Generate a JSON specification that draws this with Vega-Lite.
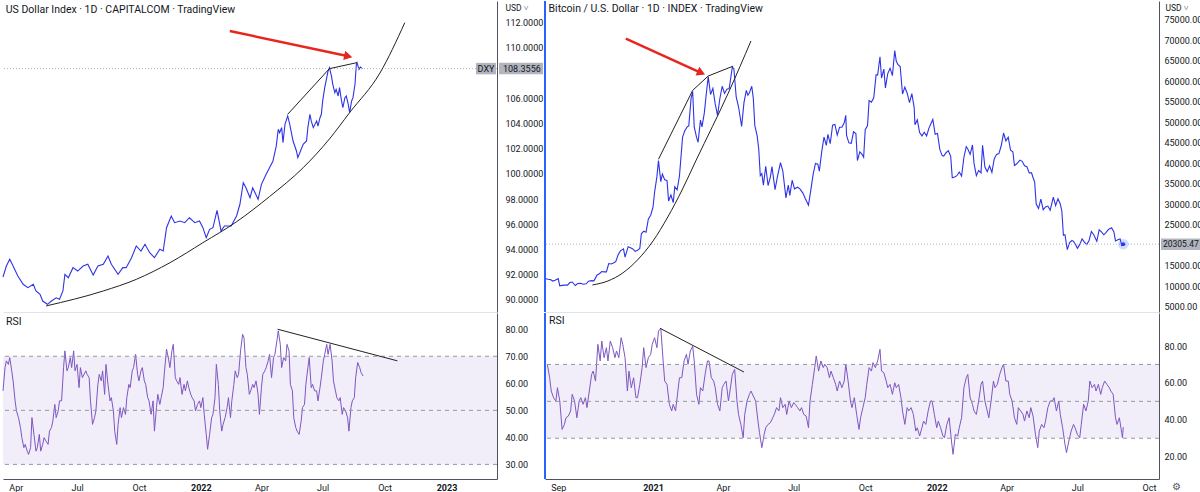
{
  "$schema": "https://vega.github.io/schema/vega-lite/v6.json",
  "padding": 0,
  "background": "#ffffff",
  "columns": 2,
  "spacing": {"row": 1, "column": 48},
  "bounds": "flush",
  "config": {
    "view": {"stroke": null},
    "font": "Roboto",
    "axis": {"grid": false, "ticks": false, "labelColor": "#131722", "labelFontSize": 9, "domainColor": "#50535e", "domainWidth": 1, "titleFontWeight": "normal", "titleColor": "#131722", "labelOverlap": false, "labelFlush": false},
    "title": {"anchor": "start", "fontWeight": "normal", "fontSize": 10.5, "color": "#131722", "font": "Roboto", "orient": "top", "offset": -14, "dx": 5}
  },
  "datasets": {
    "dxy": [
      {"t":"2021-03-13","v":91.82},{"t":"2021-03-18","v":92.69},{"t":"2021-03-23","v":93.22},{"t":"2021-03-28","v":92.69},{"t":"2021-04-04","v":91.9},{"t":"2021-04-12","v":91.24},{"t":"2021-04-19","v":90.97},{"t":"2021-04-27","v":91.24},{"t":"2021-05-01","v":90.71},{"t":"2021-05-07","v":90.44},{"t":"2021-05-11","v":89.91},{"t":"2021-05-18","v":89.65},{"t":"2021-05-24","v":89.91},{"t":"2021-05-31","v":90.17},{"t":"2021-06-05","v":90.05},{"t":"2021-06-10","v":90.71},{"t":"2021-06-13","v":92.03},{"t":"2021-06-18","v":91.76},{"t":"2021-06-25","v":92.56},{"t":"2021-07-02","v":92.29},{"t":"2021-07-10","v":92.69},{"t":"2021-07-17","v":92.83},{"t":"2021-07-25","v":91.98},{"t":"2021-08-01","v":92.69},{"t":"2021-08-09","v":92.83},{"t":"2021-08-16","v":93.48},{"t":"2021-08-21","v":92.83},{"t":"2021-08-31","v":92.03},{"t":"2021-09-07","v":92.56},{"t":"2021-09-12","v":92.56},{"t":"2021-09-20","v":93.35},{"t":"2021-09-27","v":94.28},{"t":"2021-10-04","v":93.88},{"t":"2021-10-10","v":94.41},{"t":"2021-10-17","v":93.75},{"t":"2021-10-24","v":93.35},{"t":"2021-11-01","v":94.02},{"t":"2021-11-06","v":93.88},{"t":"2021-11-11","v":95.73},{"t":"2021-11-18","v":96.66},{"t":"2021-11-23","v":96.13},{"t":"2021-12-01","v":96.26},{"t":"2021-12-08","v":96.13},{"t":"2021-12-15","v":96.52},{"t":"2021-12-23","v":96.13},{"t":"2021-12-30","v":96.26},{"t":"2022-01-04","v":95.73},{"t":"2022-01-09","v":94.94},{"t":"2022-01-14","v":95.6},{"t":"2022-01-19","v":95.73},{"t":"2022-01-25","v":97.11},{"t":"2022-01-31","v":95.47},{"t":"2022-02-05","v":95.87},{"t":"2022-02-15","v":95.87},{"t":"2022-02-23","v":96.66},{"t":"2022-02-28","v":97.59},{"t":"2022-03-05","v":99.3},{"t":"2022-03-09","v":98.9},{"t":"2022-03-15","v":98.11},{"t":"2022-03-19","v":98.9},{"t":"2022-03-27","v":97.98},{"t":"2022-04-01","v":99.17},{"t":"2022-04-08","v":99.97},{"t":"2022-04-13","v":100.49},{"t":"2022-04-18","v":101.0},{"t":"2022-04-23","v":102.2},{"t":"2022-04-26","v":103.54},{"t":"2022-04-28","v":103.27},{"t":"2022-05-01","v":103.67},{"t":"2022-05-03","v":102.48},{"t":"2022-05-06","v":103.94},{"t":"2022-05-10","v":104.6},{"t":"2022-05-13","v":103.94},{"t":"2022-05-18","v":102.61},{"t":"2022-05-23","v":101.82},{"t":"2022-05-25","v":101.29},{"t":"2022-05-28","v":101.68},{"t":"2022-06-02","v":102.35},{"t":"2022-06-07","v":102.61},{"t":"2022-06-09","v":103.67},{"t":"2022-06-12","v":104.73},{"t":"2022-06-14","v":104.2},{"t":"2022-06-17","v":103.67},{"t":"2022-06-22","v":104.2},{"t":"2022-06-24","v":103.8},{"t":"2022-06-27","v":104.46},{"t":"2022-06-29","v":104.73},{"t":"2022-07-01","v":105.79},{"t":"2022-07-04","v":106.84},{"t":"2022-07-06","v":107.37},{"t":"2022-07-09","v":108.17},{"t":"2022-07-11","v":108.43},{"t":"2022-07-14","v":107.77},{"t":"2022-07-16","v":107.11},{"t":"2022-07-19","v":106.44},{"t":"2022-07-21","v":106.71},{"t":"2022-07-24","v":106.18},{"t":"2022-07-26","v":106.84},{"t":"2022-07-29","v":105.79},{"t":"2022-07-31","v":105.25},{"t":"2022-08-03","v":106.05},{"t":"2022-08-05","v":106.18},{"t":"2022-08-08","v":105.52},{"t":"2022-08-10","v":104.86},{"t":"2022-08-13","v":105.79},{"t":"2022-08-15","v":106.05},{"t":"2022-08-18","v":107.11},{"t":"2022-08-20","v":108.7},{"t":"2022-08-21","v":108.83},{"t":"2022-08-24","v":108.3},{"t":"2022-08-26","v":108.48},{"t":"2022-08-29","v":108.3556}
    ],
    "rsiL": [
      {"t":"2021-03-13","v":57.2},{"t":"2021-03-16","v":65.8},{"t":"2021-03-18","v":68.3},{"t":"2021-03-21","v":67.0},{"t":"2021-03-23","v":69.5},{"t":"2021-03-26","v":64.6},{"t":"2021-03-28","v":60.9},{"t":"2021-03-31","v":53.5},{"t":"2021-04-02","v":49.8},{"t":"2021-04-05","v":47.3},{"t":"2021-04-08","v":43.6},{"t":"2021-04-10","v":39.9},{"t":"2021-04-13","v":36.2},{"t":"2021-04-15","v":37.4},{"t":"2021-04-18","v":34.9},{"t":"2021-04-20","v":33.7},{"t":"2021-04-23","v":36.2},{"t":"2021-04-25","v":47.3},{"t":"2021-04-28","v":41.1},{"t":"2021-05-01","v":34.9},{"t":"2021-05-03","v":36.2},{"t":"2021-05-06","v":41.1},{"t":"2021-05-08","v":34.9},{"t":"2021-05-11","v":37.4},{"t":"2021-05-13","v":39.9},{"t":"2021-05-16","v":38.6},{"t":"2021-05-19","v":37.4},{"t":"2021-05-21","v":42.3},{"t":"2021-05-24","v":43.6},{"t":"2021-05-26","v":46.0},{"t":"2021-05-29","v":52.2},{"t":"2021-05-31","v":47.3},{"t":"2021-06-03","v":49.8},{"t":"2021-06-05","v":53.5},{"t":"2021-06-08","v":53.5},{"t":"2021-06-11","v":65.8},{"t":"2021-06-13","v":72.0},{"t":"2021-06-16","v":64.6},{"t":"2021-06-18","v":65.8},{"t":"2021-06-21","v":69.5},{"t":"2021-06-23","v":65.8},{"t":"2021-06-26","v":72.0},{"t":"2021-06-28","v":64.6},{"t":"2021-07-01","v":67.0},{"t":"2021-07-04","v":58.4},{"t":"2021-07-06","v":65.8},{"t":"2021-07-09","v":62.1},{"t":"2021-07-14","v":64.6},{"t":"2021-07-16","v":63.3},{"t":"2021-07-19","v":62.1},{"t":"2021-07-21","v":53.5},{"t":"2021-07-24","v":44.8},{"t":"2021-07-27","v":47.3},{"t":"2021-07-29","v":49.8},{"t":"2021-08-01","v":59.6},{"t":"2021-08-03","v":63.3},{"t":"2021-08-06","v":60.9},{"t":"2021-08-08","v":64.6},{"t":"2021-08-11","v":55.9},{"t":"2021-08-13","v":67.0},{"t":"2021-08-16","v":59.6},{"t":"2021-08-19","v":53.5},{"t":"2021-08-21","v":54.7},{"t":"2021-08-24","v":49.8},{"t":"2021-08-26","v":42.3},{"t":"2021-08-29","v":37.4},{"t":"2021-08-31","v":44.8},{"t":"2021-09-03","v":51.0},{"t":"2021-09-05","v":47.3},{"t":"2021-09-08","v":51.0},{"t":"2021-09-11","v":48.5},{"t":"2021-09-13","v":54.7},{"t":"2021-09-16","v":59.6},{"t":"2021-09-18","v":58.4},{"t":"2021-09-21","v":64.6},{"t":"2021-09-23","v":65.8},{"t":"2021-09-26","v":70.7},{"t":"2021-09-29","v":63.3},{"t":"2021-10-01","v":60.9},{"t":"2021-10-04","v":64.6},{"t":"2021-10-06","v":65.8},{"t":"2021-10-09","v":60.9},{"t":"2021-10-11","v":59.6},{"t":"2021-10-14","v":54.7},{"t":"2021-10-16","v":53.5},{"t":"2021-10-19","v":48.5},{"t":"2021-10-22","v":53.5},{"t":"2021-10-24","v":42.3},{"t":"2021-10-27","v":51.0},{"t":"2021-10-29","v":55.9},{"t":"2021-11-01","v":52.2},{"t":"2021-11-03","v":54.7},{"t":"2021-11-06","v":58.4},{"t":"2021-11-08","v":64.6},{"t":"2021-11-11","v":72.6},{"t":"2021-11-14","v":68.9},{"t":"2021-11-16","v":65.8},{"t":"2021-11-19","v":72.0},{"t":"2021-11-21","v":74.4},{"t":"2021-11-24","v":62.1},{"t":"2021-11-26","v":60.9},{"t":"2021-11-29","v":59.6},{"t":"2021-12-01","v":62.1},{"t":"2021-12-04","v":55.9},{"t":"2021-12-07","v":59.6},{"t":"2021-12-09","v":57.2},{"t":"2021-12-12","v":60.9},{"t":"2021-12-14","v":58.4},{"t":"2021-12-17","v":55.9},{"t":"2021-12-19","v":54.7},{"t":"2021-12-22","v":53.5},{"t":"2021-12-24","v":49.8},{"t":"2021-12-27","v":52.2},{"t":"2021-12-30","v":53.5},{"t":"2022-01-01","v":51.0},{"t":"2022-01-04","v":54.7},{"t":"2022-01-06","v":48.5},{"t":"2022-01-09","v":41.1},{"t":"2022-01-11","v":35.6},{"t":"2022-01-14","v":41.1},{"t":"2022-01-17","v":47.3},{"t":"2022-01-19","v":48.5},{"t":"2022-01-22","v":54.7},{"t":"2022-01-24","v":67.0},{"t":"2022-01-27","v":59.6},{"t":"2022-01-29","v":49.8},{"t":"2022-02-01","v":42.3},{"t":"2022-02-03","v":44.8},{"t":"2022-02-06","v":47.3},{"t":"2022-02-09","v":51.0},{"t":"2022-02-11","v":54.7},{"t":"2022-02-14","v":47.3},{"t":"2022-02-16","v":53.5},{"t":"2022-02-19","v":59.6},{"t":"2022-02-21","v":64.6},{"t":"2022-02-24","v":62.1},{"t":"2022-02-26","v":63.3},{"t":"2022-03-01","v":72.0},{"t":"2022-03-04","v":78.1},{"t":"2022-03-06","v":76.9},{"t":"2022-03-09","v":65.8},{"t":"2022-03-11","v":63.3},{"t":"2022-03-14","v":55.9},{"t":"2022-03-16","v":57.2},{"t":"2022-03-19","v":59.6},{"t":"2022-03-21","v":58.4},{"t":"2022-03-24","v":60.9},{"t":"2022-03-27","v":55.9},{"t":"2022-03-29","v":48.5},{"t":"2022-04-01","v":58.4},{"t":"2022-04-03","v":63.3},{"t":"2022-04-06","v":64.6},{"t":"2022-04-08","v":65.8},{"t":"2022-04-11","v":68.3},{"t":"2022-04-13","v":70.7},{"t":"2022-04-16","v":62.1},{"t":"2022-04-19","v":69.5},{"t":"2022-04-21","v":70.7},{"t":"2022-04-24","v":75.7},{"t":"2022-04-26","v":79.4},{"t":"2022-04-29","v":74.4},{"t":"2022-05-01","v":65.8},{"t":"2022-05-04","v":69.5},{"t":"2022-05-07","v":68.3},{"t":"2022-05-09","v":74.4},{"t":"2022-05-12","v":72.0},{"t":"2022-05-14","v":59.6},{"t":"2022-05-17","v":57.2},{"t":"2022-05-19","v":47.3},{"t":"2022-05-22","v":43.6},{"t":"2022-05-24","v":42.3},{"t":"2022-05-27","v":41.1},{"t":"2022-05-30","v":46.0},{"t":"2022-06-01","v":51.0},{"t":"2022-06-04","v":52.2},{"t":"2022-06-06","v":59.6},{"t":"2022-06-09","v":65.8},{"t":"2022-06-11","v":69.5},{"t":"2022-06-14","v":58.4},{"t":"2022-06-16","v":59.6},{"t":"2022-06-19","v":57.2},{"t":"2022-06-22","v":57.2},{"t":"2022-06-24","v":53.5},{"t":"2022-06-27","v":58.4},{"t":"2022-06-29","v":62.1},{"t":"2022-07-02","v":68.3},{"t":"2022-07-04","v":70.7},{"t":"2022-07-07","v":74.4},{"t":"2022-07-09","v":70.7},{"t":"2022-07-12","v":74.4},{"t":"2022-07-15","v":68.3},{"t":"2022-07-17","v":60.9},{"t":"2022-07-20","v":57.2},{"t":"2022-07-22","v":54.7},{"t":"2022-07-25","v":53.5},{"t":"2022-07-27","v":54.7},{"t":"2022-07-30","v":48.5},{"t":"2022-08-01","v":51.0},{"t":"2022-08-04","v":49.8},{"t":"2022-08-07","v":47.3},{"t":"2022-08-09","v":42.3},{"t":"2022-08-12","v":51.0},{"t":"2022-08-14","v":53.5},{"t":"2022-08-17","v":54.7},{"t":"2022-08-19","v":62.1},{"t":"2022-08-22","v":67.7},{"t":"2022-08-25","v":65.8},{"t":"2022-08-27","v":64.0},{"t":"2022-08-30","v":62.7}
    ],
    "btc": [
      {"t":"2020-08-16","v":11900},{"t":"2020-08-19","v":11750},{"t":"2020-08-22","v":11670},{"t":"2020-08-25","v":11330},{"t":"2020-08-28","v":11530},{"t":"2020-09-01","v":11920},{"t":"2020-09-03","v":10170},{"t":"2020-09-06","v":10260},{"t":"2020-09-09","v":10330},{"t":"2020-09-13","v":10330},{"t":"2020-09-16","v":10950},{"t":"2020-09-19","v":11090},{"t":"2020-09-23","v":10230},{"t":"2020-09-26","v":10730},{"t":"2020-09-30","v":10780},{"t":"2020-10-03","v":10550},{"t":"2020-10-07","v":10660},{"t":"2020-10-10","v":11300},{"t":"2020-10-14","v":11430},{"t":"2020-10-17","v":11370},{"t":"2020-10-21","v":12810},{"t":"2020-10-24","v":13110},{"t":"2020-10-27","v":13650},{"t":"2020-10-30","v":13550},{"t":"2020-11-02","v":13550},{"t":"2020-11-05","v":15590},{"t":"2020-11-08","v":15480},{"t":"2020-11-11","v":15700},{"t":"2020-11-14","v":16070},{"t":"2020-11-17","v":17680},{"t":"2020-11-20","v":18680},{"t":"2020-11-24","v":19160},{"t":"2020-11-26","v":17150},{"t":"2020-11-30","v":19700},{"t":"2020-12-03","v":19450},{"t":"2020-12-06","v":19150},{"t":"2020-12-09","v":18550},{"t":"2020-12-12","v":18800},{"t":"2020-12-15","v":19280},{"t":"2020-12-17","v":22840},{"t":"2020-12-20","v":23480},{"t":"2020-12-23","v":23240},{"t":"2020-12-26","v":26440},{"t":"2020-12-29","v":27370},{"t":"2021-01-01","v":29370},{"t":"2021-01-03","v":32960},{"t":"2021-01-06","v":36770},{"t":"2021-01-08","v":40670},{"t":"2021-01-11","v":35570},{"t":"2021-01-13","v":37390},{"t":"2021-01-16","v":36020},{"t":"2021-01-19","v":35830},{"t":"2021-01-21","v":30830},{"t":"2021-01-24","v":32290},{"t":"2021-01-27","v":30430},{"t":"2021-01-29","v":34320},{"t":"2021-02-01","v":33530},{"t":"2021-02-04","v":36930},{"t":"2021-02-08","v":46400},{"t":"2021-02-11","v":48000},{"t":"2021-02-14","v":48900},{"t":"2021-02-16","v":49140},{"t":"2021-02-19","v":55890},{"t":"2021-02-21","v":57500},{"t":"2021-02-23","v":48880},{"t":"2021-02-26","v":46340},{"t":"2021-02-28","v":45140},{"t":"2021-03-03","v":50540},{"t":"2021-03-05","v":48880},{"t":"2021-03-08","v":52300},{"t":"2021-03-10","v":56000},{"t":"2021-03-13","v":61190},{"t":"2021-03-16","v":56800},{"t":"2021-03-19","v":58300},{"t":"2021-03-22","v":54500},{"t":"2021-03-25","v":51700},{"t":"2021-03-28","v":55820},{"t":"2021-03-31","v":58800},{"t":"2021-04-03","v":57060},{"t":"2021-04-06","v":58100},{"t":"2021-04-09","v":58220},{"t":"2021-04-13","v":63500},{"t":"2021-04-15","v":63100},{"t":"2021-04-18","v":56200},{"t":"2021-04-21","v":53800},{"t":"2021-04-25","v":49000},{"t":"2021-04-28","v":54800},{"t":"2021-05-01","v":57800},{"t":"2021-05-03","v":56600},{"t":"2021-05-05","v":57200},{"t":"2021-05-08","v":58800},{"t":"2021-05-10","v":55900},{"t":"2021-05-12","v":49200},{"t":"2021-05-15","v":46700},{"t":"2021-05-17","v":43500},{"t":"2021-05-19","v":37000},{"t":"2021-05-21","v":37500},{"t":"2021-05-23","v":34700},{"t":"2021-05-26","v":39300},{"t":"2021-05-29","v":34600},{"t":"2021-06-01","v":36700},{"t":"2021-06-03","v":39200},{"t":"2021-06-07","v":33600},{"t":"2021-06-10","v":36700},{"t":"2021-06-14","v":40200},{"t":"2021-06-17","v":38100},{"t":"2021-06-21","v":31600},{"t":"2021-06-24","v":34700},{"t":"2021-06-26","v":32200},{"t":"2021-06-29","v":35900},{"t":"2021-07-02","v":33800},{"t":"2021-07-06","v":34200},{"t":"2021-07-09","v":33800},{"t":"2021-07-13","v":32700},{"t":"2021-07-16","v":31400},{"t":"2021-07-20","v":29800},{"t":"2021-07-23","v":33500},{"t":"2021-07-26","v":37300},{"t":"2021-07-29","v":40000},{"t":"2021-08-01","v":39800},{"t":"2021-08-03","v":38100},{"t":"2021-08-06","v":42800},{"t":"2021-08-09","v":46400},{"t":"2021-08-12","v":44400},{"t":"2021-08-14","v":47100},{"t":"2021-08-17","v":44800},{"t":"2021-08-20","v":49300},{"t":"2021-08-23","v":49500},{"t":"2021-08-26","v":46900},{"t":"2021-08-29","v":48800},{"t":"2021-09-01","v":48800},{"t":"2021-09-04","v":49900},{"t":"2021-09-06","v":51700},{"t":"2021-09-07","v":46800},{"t":"2021-09-10","v":45000},{"t":"2021-09-13","v":44900},{"t":"2021-09-16","v":47700},{"t":"2021-09-19","v":47300},{"t":"2021-09-21","v":40700},{"t":"2021-09-24","v":42800},{"t":"2021-09-27","v":42200},{"t":"2021-09-29","v":41500},{"t":"2021-10-01","v":48200},{"t":"2021-10-04","v":49200},{"t":"2021-10-06","v":55300},{"t":"2021-10-09","v":54900},{"t":"2021-10-12","v":56000},{"t":"2021-10-15","v":61600},{"t":"2021-10-17","v":61500},{"t":"2021-10-20","v":66000},{"t":"2021-10-22","v":60800},{"t":"2021-10-25","v":63000},{"t":"2021-10-27","v":58400},{"t":"2021-10-30","v":61900},{"t":"2021-11-02","v":63200},{"t":"2021-11-05","v":61400},{"t":"2021-11-08","v":67500},{"t":"2021-11-10","v":64900},{"t":"2021-11-12","v":64100},{"t":"2021-11-15","v":63600},{"t":"2021-11-18","v":56900},{"t":"2021-11-21","v":58600},{"t":"2021-11-24","v":57100},{"t":"2021-11-27","v":54800},{"t":"2021-11-30","v":57000},{"t":"2021-12-03","v":53600},{"t":"2021-12-04","v":49400},{"t":"2021-12-07","v":50600},{"t":"2021-12-10","v":47500},{"t":"2021-12-13","v":46700},{"t":"2021-12-16","v":47600},{"t":"2021-12-19","v":46700},{"t":"2021-12-22","v":48600},{"t":"2021-12-27","v":50700},{"t":"2021-12-30","v":47100},{"t":"2022-01-02","v":47300},{"t":"2022-01-05","v":43400},{"t":"2022-01-08","v":41900},{"t":"2022-01-10","v":41800},{"t":"2022-01-13","v":42600},{"t":"2022-01-16","v":43100},{"t":"2022-01-19","v":41700},{"t":"2022-01-21","v":36500},{"t":"2022-01-24","v":36700},{"t":"2022-01-27","v":37000},{"t":"2022-01-30","v":37900},{"t":"2022-02-02","v":36900},{"t":"2022-02-05","v":41500},{"t":"2022-02-08","v":44100},{"t":"2022-02-10","v":43500},{"t":"2022-02-13","v":42200},{"t":"2022-02-16","v":44500},{"t":"2022-02-18","v":40000},{"t":"2022-02-21","v":37000},{"t":"2022-02-24","v":38300},{"t":"2022-02-27","v":37700},{"t":"2022-03-01","v":44400},{"t":"2022-03-04","v":39100},{"t":"2022-03-07","v":38000},{"t":"2022-03-10","v":39400},{"t":"2022-03-13","v":37800},{"t":"2022-03-16","v":41100},{"t":"2022-03-19","v":42200},{"t":"2022-03-22","v":42400},{"t":"2022-03-25","v":44300},{"t":"2022-03-28","v":47400},{"t":"2022-03-31","v":45500},{"t":"2022-04-03","v":46400},{"t":"2022-04-06","v":43200},{"t":"2022-04-09","v":42800},{"t":"2022-04-11","v":39500},{"t":"2022-04-14","v":39900},{"t":"2022-04-18","v":40800},{"t":"2022-04-21","v":40500},{"t":"2022-04-24","v":39400},{"t":"2022-04-27","v":39200},{"t":"2022-04-30","v":37700},{"t":"2022-05-03","v":37700},{"t":"2022-05-05","v":36500},{"t":"2022-05-07","v":35500},{"t":"2022-05-09","v":30100},{"t":"2022-05-12","v":29000},{"t":"2022-05-15","v":31300},{"t":"2022-05-18","v":28700},{"t":"2022-05-21","v":29400},{"t":"2022-05-24","v":29600},{"t":"2022-05-27","v":28600},{"t":"2022-05-31","v":31800},{"t":"2022-06-03","v":29700},{"t":"2022-06-06","v":31400},{"t":"2022-06-09","v":30100},{"t":"2022-06-11","v":28400},{"t":"2022-06-13","v":22500},{"t":"2022-06-15","v":22600},{"t":"2022-06-18","v":19000},{"t":"2022-06-21","v":20700},{"t":"2022-06-24","v":21200},{"t":"2022-06-26","v":21000},{"t":"2022-06-29","v":20100},{"t":"2022-07-01","v":19300},{"t":"2022-07-04","v":20200},{"t":"2022-07-07","v":21600},{"t":"2022-07-10","v":20800},{"t":"2022-07-13","v":20200},{"t":"2022-07-16","v":21200},{"t":"2022-07-19","v":23400},{"t":"2022-07-22","v":22600},{"t":"2022-07-26","v":21000},{"t":"2022-07-29","v":23800},{"t":"2022-08-01","v":23300},{"t":"2022-08-04","v":22600},{"t":"2022-08-07","v":23200},{"t":"2022-08-10","v":23900},{"t":"2022-08-14","v":24300},{"t":"2022-08-17","v":23300},{"t":"2022-08-19","v":21100},{"t":"2022-08-22","v":21400},{"t":"2022-08-25","v":21600},{"t":"2022-08-27","v":20000},{"t":"2022-08-29","v":20305.47}
    ],
    "rsiR": [
      {"t":"2020-08-18","v":70.1},{"t":"2020-08-21","v":62.8},{"t":"2020-08-23","v":55.6},{"t":"2020-08-26","v":52.0},{"t":"2020-08-29","v":50.2},{"t":"2020-08-31","v":57.4},{"t":"2020-09-03","v":50.2},{"t":"2020-09-06","v":34.8},{"t":"2020-09-09","v":37.5},{"t":"2020-09-11","v":41.1},{"t":"2020-09-14","v":42.0},{"t":"2020-09-17","v":44.8},{"t":"2020-09-19","v":53.8},{"t":"2020-09-22","v":50.2},{"t":"2020-09-25","v":41.1},{"t":"2020-09-28","v":50.2},{"t":"2020-09-30","v":52.0},{"t":"2020-10-03","v":48.4},{"t":"2020-10-06","v":52.0},{"t":"2020-10-08","v":46.6},{"t":"2020-10-11","v":55.6},{"t":"2020-10-14","v":64.6},{"t":"2020-10-16","v":66.4},{"t":"2020-10-19","v":61.0},{"t":"2020-10-22","v":80.9},{"t":"2020-10-25","v":71.9},{"t":"2020-10-27","v":82.7},{"t":"2020-10-30","v":73.7},{"t":"2020-11-02","v":79.1},{"t":"2020-11-04","v":71.9},{"t":"2020-11-07","v":82.7},{"t":"2020-11-10","v":79.1},{"t":"2020-11-13","v":73.7},{"t":"2020-11-15","v":77.3},{"t":"2020-11-18","v":73.7},{"t":"2020-11-21","v":84.5},{"t":"2020-11-23","v":80.9},{"t":"2020-11-26","v":73.7},{"t":"2020-11-29","v":55.6},{"t":"2020-12-01","v":66.4},{"t":"2020-12-04","v":57.4},{"t":"2020-12-07","v":62.8},{"t":"2020-12-10","v":52.0},{"t":"2020-12-12","v":52.0},{"t":"2020-12-15","v":59.2},{"t":"2020-12-18","v":68.3},{"t":"2020-12-20","v":79.1},{"t":"2020-12-23","v":68.3},{"t":"2020-12-26","v":73.7},{"t":"2020-12-29","v":75.5},{"t":"2020-12-31","v":80.9},{"t":"2021-01-03","v":84.5},{"t":"2021-01-06","v":79.1},{"t":"2021-01-08","v":88.1},{"t":"2021-01-11","v":89.6},{"t":"2021-01-14","v":71.9},{"t":"2021-01-16","v":61.0},{"t":"2021-01-19","v":59.2},{"t":"2021-01-22","v":48.4},{"t":"2021-01-25","v":44.8},{"t":"2021-01-27","v":48.4},{"t":"2021-01-30","v":44.8},{"t":"2021-02-02","v":55.6},{"t":"2021-02-04","v":62.8},{"t":"2021-02-07","v":62.8},{"t":"2021-02-10","v":71.9},{"t":"2021-02-13","v":75.5},{"t":"2021-02-15","v":70.1},{"t":"2021-02-18","v":77.3},{"t":"2021-02-21","v":80.0},{"t":"2021-02-23","v":71.9},{"t":"2021-02-26","v":53.8},{"t":"2021-03-01","v":48.4},{"t":"2021-03-03","v":57.4},{"t":"2021-03-06","v":55.6},{"t":"2021-03-09","v":64.6},{"t":"2021-03-12","v":71.9},{"t":"2021-03-14","v":71.9},{"t":"2021-03-17","v":62.8},{"t":"2021-03-20","v":61.0},{"t":"2021-03-22","v":57.4},{"t":"2021-03-25","v":48.4},{"t":"2021-03-28","v":44.8},{"t":"2021-03-31","v":57.4},{"t":"2021-04-02","v":59.2},{"t":"2021-04-05","v":61.0},{"t":"2021-04-08","v":50.2},{"t":"2021-04-10","v":55.6},{"t":"2021-04-13","v":64.6},{"t":"2021-04-16","v":67.3},{"t":"2021-04-19","v":50.2},{"t":"2021-04-21","v":42.9},{"t":"2021-04-24","v":37.5},{"t":"2021-04-27","v":30.3},{"t":"2021-04-29","v":42.9},{"t":"2021-05-02","v":50.2},{"t":"2021-05-05","v":53.8},{"t":"2021-05-07","v":55.6},{"t":"2021-05-10","v":52.9},{"t":"2021-05-13","v":50.2},{"t":"2021-05-16","v":39.3},{"t":"2021-05-18","v":33.0},{"t":"2021-05-21","v":24.9},{"t":"2021-05-24","v":32.1},{"t":"2021-05-26","v":35.7},{"t":"2021-05-29","v":37.5},{"t":"2021-06-01","v":38.4},{"t":"2021-06-04","v":41.1},{"t":"2021-06-06","v":42.9},{"t":"2021-06-09","v":46.6},{"t":"2021-06-12","v":44.8},{"t":"2021-06-14","v":52.0},{"t":"2021-06-17","v":46.6},{"t":"2021-06-20","v":48.4},{"t":"2021-06-22","v":42.9},{"t":"2021-06-25","v":50.2},{"t":"2021-06-28","v":46.6},{"t":"2021-07-01","v":49.3},{"t":"2021-07-03","v":48.4},{"t":"2021-07-06","v":46.6},{"t":"2021-07-09","v":44.8},{"t":"2021-07-11","v":46.6},{"t":"2021-07-14","v":42.9},{"t":"2021-07-17","v":42.0},{"t":"2021-07-20","v":35.7},{"t":"2021-07-22","v":50.2},{"t":"2021-07-25","v":59.2},{"t":"2021-07-28","v":68.3},{"t":"2021-07-30","v":74.6},{"t":"2021-08-02","v":66.4},{"t":"2021-08-05","v":71.9},{"t":"2021-08-08","v":68.3},{"t":"2021-08-10","v":70.1},{"t":"2021-08-13","v":68.3},{"t":"2021-08-16","v":62.8},{"t":"2021-08-18","v":66.4},{"t":"2021-08-21","v":62.8},{"t":"2021-08-24","v":59.2},{"t":"2021-08-26","v":55.6},{"t":"2021-08-29","v":61.0},{"t":"2021-09-01","v":57.4},{"t":"2021-09-04","v":61.0},{"t":"2021-09-06","v":70.1},{"t":"2021-09-09","v":61.0},{"t":"2021-09-12","v":50.2},{"t":"2021-09-14","v":46.6},{"t":"2021-09-17","v":52.0},{"t":"2021-09-20","v":42.9},{"t":"2021-09-23","v":34.8},{"t":"2021-09-25","v":41.1},{"t":"2021-09-28","v":46.6},{"t":"2021-10-01","v":52.0},{"t":"2021-10-03","v":59.2},{"t":"2021-10-06","v":68.3},{"t":"2021-10-09","v":66.4},{"t":"2021-10-11","v":71.0},{"t":"2021-10-14","v":68.3},{"t":"2021-10-17","v":71.9},{"t":"2021-10-20","v":78.2},{"t":"2021-10-22","v":66.4},{"t":"2021-10-25","v":65.5},{"t":"2021-10-28","v":61.0},{"t":"2021-10-30","v":57.4},{"t":"2021-11-02","v":59.2},{"t":"2021-11-05","v":53.8},{"t":"2021-11-08","v":60.1},{"t":"2021-11-10","v":57.4},{"t":"2021-11-13","v":59.2},{"t":"2021-11-16","v":52.0},{"t":"2021-11-18","v":44.8},{"t":"2021-11-21","v":37.5},{"t":"2021-11-24","v":46.6},{"t":"2021-11-26","v":44.8},{"t":"2021-11-29","v":46.6},{"t":"2021-12-02","v":42.9},{"t":"2021-12-05","v":33.9},{"t":"2021-12-07","v":35.7},{"t":"2021-12-10","v":31.2},{"t":"2021-12-13","v":35.7},{"t":"2021-12-15","v":39.3},{"t":"2021-12-18","v":37.5},{"t":"2021-12-21","v":44.8},{"t":"2021-12-24","v":50.2},{"t":"2021-12-26","v":50.2},{"t":"2021-12-29","v":42.9},{"t":"2022-01-01","v":35.7},{"t":"2022-01-03","v":39.3},{"t":"2022-01-06","v":35.7},{"t":"2022-01-09","v":31.2},{"t":"2022-01-11","v":30.3},{"t":"2022-01-14","v":37.5},{"t":"2022-01-17","v":41.1},{"t":"2022-01-20","v":28.5},{"t":"2022-01-22","v":21.3},{"t":"2022-01-25","v":32.1},{"t":"2022-01-28","v":31.2},{"t":"2022-01-30","v":35.7},{"t":"2022-02-02","v":41.1},{"t":"2022-02-05","v":57.4},{"t":"2022-02-08","v":62.8},{"t":"2022-02-10","v":64.6},{"t":"2022-02-13","v":52.0},{"t":"2022-02-16","v":48.4},{"t":"2022-02-18","v":44.8},{"t":"2022-02-21","v":42.9},{"t":"2022-02-24","v":50.2},{"t":"2022-02-27","v":59.2},{"t":"2022-03-01","v":61.0},{"t":"2022-03-04","v":50.2},{"t":"2022-03-07","v":44.8},{"t":"2022-03-09","v":41.1},{"t":"2022-03-12","v":50.2},{"t":"2022-03-15","v":61.0},{"t":"2022-03-17","v":57.4},{"t":"2022-03-20","v":59.2},{"t":"2022-03-23","v":64.6},{"t":"2022-03-26","v":68.3},{"t":"2022-03-28","v":70.1},{"t":"2022-03-31","v":61.0},{"t":"2022-04-03","v":61.0},{"t":"2022-04-05","v":53.8},{"t":"2022-04-08","v":50.2},{"t":"2022-04-11","v":41.1},{"t":"2022-04-14","v":37.5},{"t":"2022-04-16","v":46.6},{"t":"2022-04-19","v":44.8},{"t":"2022-04-22","v":42.9},{"t":"2022-04-24","v":39.3},{"t":"2022-04-27","v":44.8},{"t":"2022-04-30","v":41.1},{"t":"2022-05-02","v":46.6},{"t":"2022-05-05","v":42.0},{"t":"2022-05-08","v":32.1},{"t":"2022-05-11","v":24.9},{"t":"2022-05-13","v":33.9},{"t":"2022-05-16","v":37.5},{"t":"2022-05-19","v":35.7},{"t":"2022-05-21","v":39.3},{"t":"2022-05-24","v":46.6},{"t":"2022-05-27","v":50.2},{"t":"2022-05-30","v":50.2},{"t":"2022-06-01","v":52.0},{"t":"2022-06-04","v":44.8},{"t":"2022-06-07","v":50.2},{"t":"2022-06-09","v":42.9},{"t":"2022-06-12","v":35.7},{"t":"2022-06-15","v":26.7},{"t":"2022-06-17","v":22.2},{"t":"2022-06-20","v":28.5},{"t":"2022-06-23","v":33.9},{"t":"2022-06-26","v":37.5},{"t":"2022-06-28","v":35.7},{"t":"2022-07-01","v":32.1},{"t":"2022-07-04","v":30.3},{"t":"2022-07-06","v":37.5},{"t":"2022-07-09","v":48.4},{"t":"2022-07-12","v":44.8},{"t":"2022-07-15","v":50.2},{"t":"2022-07-17","v":61.0},{"t":"2022-07-20","v":57.4},{"t":"2022-07-23","v":59.2},{"t":"2022-07-25","v":55.6},{"t":"2022-07-28","v":59.2},{"t":"2022-07-31","v":53.8},{"t":"2022-08-02","v":57.4},{"t":"2022-08-05","v":61.0},{"t":"2022-08-08","v":59.2},{"t":"2022-08-11","v":57.4},{"t":"2022-08-13","v":55.6},{"t":"2022-08-16","v":53.8},{"t":"2022-08-19","v":41.1},{"t":"2022-08-21","v":37.5},{"t":"2022-08-24","v":41.1},{"t":"2022-08-27","v":33.0},{"t":"2022-08-28","v":30.3},{"t":"2022-08-29","v":36.0}
    ]
  },
  "concat": [
    {
      "width": 494,
      "height": 311,
      "title": {"text": "US Dollar Index · 1D · CAPITALCOM · TradingView"},
      "layer": [
        {
          "data": {"name": "dxy"},
          "mark": {"type": "line", "stroke": "#2e33e6", "strokeWidth": 1.1},
          "encoding": {
            "x": {"field": "t", "type": "temporal",
              "scale": {"type": "utc", "domain": [{"year": 2021, "month": 3, "date": 13, "utc": true}, {"year": 2023, "month": 3, "date": 17, "utc": true}]},
              "axis": {"labels": false, "domainColor": "#e0e3eb", "title": null}},
            "y": {"field": "v", "type": "quantitative",
              "scale": {"domain": [89.04, 113.72], "zero": false, "nice": false},
              "axis": {"orient": "right", "values": [90, 92, 94, 96, 98, 100, 102, 104, 106, 110, 112], "tickCount": 30, "format": ".4f", "labelPadding": 8, "labelOverlap": false,
                "title": "USD ˅", "titleAngle": 0, "titleX": 8, "titleY": 6, "titleAlign": "left", "titleBaseline": "middle", "titleFontSize": 8.5}}
          }
        },
        {
          "data": {"values": [{}]},
          "mark": {"type": "rule", "stroke": "#b2b5be", "strokeDash": [1, 2], "strokeWidth": 1},
          "encoding": {"y": {"datum": 108.3556, "type": "quantitative"}}
        },
        {
          "data": {"values": [
            {"t": "2021-05-16", "v": 89.52}, {"t": "2021-08-09", "v": 90.71}, {"t": "2021-09-27", "v": 91.63}, {"t": "2021-11-16", "v": 92.95},
            {"t": "2022-01-04", "v": 94.54}, {"t": "2022-02-23", "v": 96.2}, {"t": "2022-04-13", "v": 98.2}, {"t": "2022-06-02", "v": 100.49},
            {"t": "2022-07-11", "v": 102.77}, {"t": "2022-08-10", "v": 104.86}, {"t": "2022-09-24", "v": 108.0}, {"t": "2022-10-31", "v": 112.0}
          ]},
          "mark": {"type": "line", "stroke": "#222222", "strokeWidth": 1, "interpolate": "monotone"},
          "encoding": {"x": {"field": "t", "type": "temporal"}, "y": {"field": "v", "type": "quantitative"}}
        },
        {
          "data": {"values": [{"t": "2022-05-10", "v": 104.73}, {"t": "2022-07-11", "v": 108.35}, {"t": "2022-08-21", "v": 108.83}]},
          "mark": {"type": "line", "stroke": "#222222", "strokeWidth": 1},
          "encoding": {"x": {"field": "t", "type": "temporal"}, "y": {"field": "v", "type": "quantitative"}}
        },
        {
          "data": {"values": [{"t": "2022-02-13", "v": 111.34}, {"t": "2022-08-10", "v": 109.31}]},
          "mark": {"type": "line", "stroke": "#e8261f", "strokeWidth": 2.5},
          "encoding": {"x": {"field": "t", "type": "temporal"}, "y": {"field": "v", "type": "quantitative"}}
        },
        {
          "data": {"values": [{"t": "2022-08-08", "v": 109.33}]},
          "mark": {"type": "point", "shape": "triangle-right", "angle": 12, "filled": true, "color": "#e8261f", "size": 90, "opacity": 1},
          "encoding": {"x": {"field": "t", "type": "temporal"}, "y": {"field": "v", "type": "quantitative"}}
        },
        {
          "data": {"values": [{}]},
          "mark": {"type": "rect", "color": "#b2b5be", "xOffset": 2, "x2Offset": 46},
          "encoding": {
            "x": {"datum": {"year": 2023, "month": 3, "date": 17, "utc": true}, "type": "temporal"},
            "x2": {"datum": {"year": 2023, "month": 3, "date": 17, "utc": true}},
            "y": {"datum": 108.81, "type": "quantitative"}, "y2": {"datum": 107.9}
          }
        },
        {
          "data": {"values": [{}]},
          "mark": {"type": "rect", "color": "#b2b5be", "xOffset": -21, "x2Offset": -1},
          "encoding": {
            "x": {"datum": {"year": 2023, "month": 3, "date": 17, "utc": true}, "type": "temporal"},
            "x2": {"datum": {"year": 2023, "month": 3, "date": 17, "utc": true}},
            "y": {"datum": 108.81, "type": "quantitative"}, "y2": {"datum": 107.9}
          }
        },
        {
          "data": {"values": [{}]},
          "mark": {"type": "text", "align": "left", "baseline": "middle", "dx": 6, "fontSize": 9, "color": "#131722"},
          "encoding": {
            "x": {"datum": {"year": 2023, "month": 3, "date": 17, "utc": true}, "type": "temporal"},
            "y": {"datum": 108.3556, "type": "quantitative"}, "text": {"value": "108.3556"}
          }
        },
        {
          "data": {"values": [{}]},
          "mark": {"type": "text", "align": "center", "baseline": "middle", "dx": -11, "fontSize": 9, "color": "#131722"},
          "encoding": {
            "x": {"datum": {"year": 2023, "month": 3, "date": 17, "utc": true}, "type": "temporal"},
            "y": {"datum": 108.3556, "type": "quantitative"}, "text": {"value": "DXY"}
          }
        }
      ]
    },
    {
      "width": 614,
      "height": 311,
      "title": {"text": "Bitcoin / U.S. Dollar · 1D · INDEX · TradingView"},
      "layer": [
        {
          "data": {"name": "btc"},
          "mark": {"type": "line", "stroke": "#2e33e6", "strokeWidth": 1.1},
          "encoding": {
            "x": {"field": "t", "type": "temporal",
              "scale": {"type": "utc", "domain": [{"year": 2020, "month": 8, "date": 15, "utc": true}, {"year": 2022, "month": 10, "date": 14, "utc": true}]},
              "axis": {"labels": false, "domainColor": "#e0e3eb", "title": null}},
            "y": {"field": "v", "type": "quantitative",
              "scale": {"domain": [3780, 79580], "zero": false, "nice": false},
              "axis": {"orient": "right", "values": [5000, 10000, 15000, 25000, 30000, 35000, 40000, 45000, 50000, 55000, 60000, 65000, 70000, 75000], "tickCount": 30, "format": ".2f", "labelPadding": 5, "labelOverlap": false,
                "title": "USD ˅", "titleAngle": 0, "titleX": 6, "titleY": 6, "titleAlign": "left", "titleBaseline": "middle", "titleFontSize": 8.5}}
          }
        },
        {
          "data": {"values": [{}]},
          "mark": {"type": "rule", "stroke": "#b2b5be", "strokeDash": [1, 2], "strokeWidth": 1},
          "encoding": {"y": {"datum": 20305.47, "type": "quantitative"}}
        },
        {
          "data": {"values": [
            {"t": "2020-10-15", "v": 10370}, {"t": "2020-11-04", "v": 11340}, {"t": "2020-11-23", "v": 13290}, {"t": "2020-12-12", "v": 16460},
            {"t": "2021-01-01", "v": 21090}, {"t": "2021-01-20", "v": 26940}, {"t": "2021-02-08", "v": 33760}, {"t": "2021-02-25", "v": 40590},
            {"t": "2021-04-09", "v": 57640}, {"t": "2021-05-07", "v": 69830}
          ]},
          "mark": {"type": "line", "stroke": "#222222", "strokeWidth": 1, "interpolate": "monotone"},
          "encoding": {"x": {"field": "t", "type": "temporal"}, "y": {"field": "v", "type": "quantitative"}}
        },
        {
          "data": {"values": [{"t": "2021-01-08", "v": 41000}, {"t": "2021-02-21", "v": 57800}, {"t": "2021-03-13", "v": 61300}, {"t": "2021-04-14", "v": 63700}]},
          "mark": {"type": "line", "stroke": "#222222", "strokeWidth": 1},
          "encoding": {"x": {"field": "t", "type": "temporal"}, "y": {"field": "v", "type": "quantitative"}}
        },
        {
          "data": {"values": [{"t": "2020-11-27", "v": 70390}, {"t": "2021-03-06", "v": 61900}]},
          "mark": {"type": "line", "stroke": "#e8261f", "strokeWidth": 2.5},
          "encoding": {"x": {"field": "t", "type": "temporal"}, "y": {"field": "v", "type": "quantitative"}}
        },
        {
          "data": {"values": [{"t": "2021-03-04", "v": 62100}]},
          "mark": {"type": "point", "shape": "triangle-right", "angle": 24, "filled": true, "color": "#e8261f", "size": 90, "opacity": 1},
          "encoding": {"x": {"field": "t", "type": "temporal"}, "y": {"field": "v", "type": "quantitative"}}
        },
        {
          "data": {"values": [{}]},
          "mark": {"type": "rule", "stroke": "#2962ff", "strokeWidth": 2},
          "encoding": {"x": {"datum": {"year": 2020, "month": 8, "date": 15, "utc": true}, "type": "temporal"}}
        },
        {
          "data": {"values": [{"t": "2022-08-29", "v": 20305.47}]},
          "mark": {"type": "circle", "size": 110, "color": "#2962ff", "opacity": 0.22},
          "encoding": {"x": {"field": "t", "type": "temporal"}, "y": {"field": "v", "type": "quantitative"}}
        },
        {
          "data": {"values": [{"t": "2022-08-29", "v": 20305.47}]},
          "mark": {"type": "circle", "size": 14, "color": "#2e33e6", "opacity": 1},
          "encoding": {"x": {"field": "t", "type": "temporal"}, "y": {"field": "v", "type": "quantitative"}}
        },
        {
          "data": {"values": [{}]},
          "mark": {"type": "rect", "color": "#b2b5be", "xOffset": 2, "x2Offset": 44},
          "encoding": {
            "x": {"datum": {"year": 2022, "month": 10, "date": 14, "utc": true}, "type": "temporal"},
            "x2": {"datum": {"year": 2022, "month": 10, "date": 14, "utc": true}},
            "y": {"datum": 21700, "type": "quantitative"}, "y2": {"datum": 18900}
          }
        },
        {
          "data": {"values": [{}]},
          "mark": {"type": "text", "align": "left", "baseline": "middle", "dx": 4, "fontSize": 8.5, "color": "#131722"},
          "encoding": {
            "x": {"datum": {"year": 2022, "month": 10, "date": 14, "utc": true}, "type": "temporal"},
            "y": {"datum": 20305.47, "type": "quantitative"}, "text": {"value": "20305.47"}
          }
        }
      ]
    },
    {
      "width": 494,
      "height": 166,
      "title": {"text": "RSI", "offset": -14},
      "layer": [
        {
          "data": {"name": "rsiL"},
          "mark": {"type": "line", "stroke": "#7e57c2", "strokeWidth": 1},
          "encoding": {
            "x": {"field": "t", "type": "temporal",
              "scale": {"type": "utc", "domain": [{"year": 2021, "month": 3, "date": 13, "utc": true}, {"year": 2023, "month": 3, "date": 17, "utc": true}]},
              "axis": {"title": null, "labelPadding": 4, "labelBaseline": "top", "labelOverlap": false, "tickCount": 30,
                "values": [{"year": 2021, "month": 4, "date": 1, "utc": true}, {"year": 2021, "month": 7, "date": 1, "utc": true}, {"year": 2021, "month": 10, "date": 1, "utc": true}, {"year": 2022, "month": 1, "date": 1, "utc": true}, {"year": 2022, "month": 4, "date": 1, "utc": true}, {"year": 2022, "month": 7, "date": 1, "utc": true}, {"year": 2022, "month": 10, "date": 1, "utc": true}, {"year": 2023, "month": 1, "date": 1, "utc": true}],
                "labelExpr": "utcFormat(datum.value, utcmonth(datum.value) == 0 ? '%Y' : '%b')",
                "labelFontWeight": {"condition": {"test": "utcmonth(datum.value) == 0", "value": "bold"}, "value": "normal"}}},
            "y": {"field": "v", "type": "quantitative",
              "scale": {"domain": [24.6, 86.0], "zero": false, "nice": false},
              "axis": {"orient": "right", "values": [30, 40, 50, 60, 70, 80], "tickCount": 30, "format": ".2f", "labelPadding": 8, "labelOverlap": false, "title": null}}
          }
        },
        {
          "data": {"values": [{}]},
          "mark": {"type": "rect", "color": "#7e57c2", "opacity": 0.1},
          "encoding": {
            "x": {"datum": {"year": 2021, "month": 3, "date": 13, "utc": true}, "type": "temporal"},
            "x2": {"datum": {"year": 2023, "month": 3, "date": 17, "utc": true}},
            "y": {"datum": 70, "type": "quantitative"}, "y2": {"datum": 30}
          }
        },
        {
          "data": {"values": [{"r": 70}, {"r": 50}, {"r": 30}]},
          "mark": {"type": "rule", "stroke": "#9598a1", "strokeDash": [4, 4], "strokeWidth": 1},
          "encoding": {"y": {"field": "r", "type": "quantitative"}}
        },
        {
          "data": {"values": [{"t": "2022-04-25", "v": 80.0}, {"t": "2022-10-20", "v": 68.3}]},
          "mark": {"type": "line", "stroke": "#222222", "strokeWidth": 1},
          "encoding": {"x": {"field": "t", "type": "temporal"}, "y": {"field": "v", "type": "quantitative"}}
        }
      ]
    },
    {
      "width": 614,
      "height": 166,
      "title": {"text": "RSI", "offset": -14},
      "layer": [
        {
          "data": {"name": "rsiR"},
          "mark": {"type": "line", "stroke": "#7e57c2", "strokeWidth": 1},
          "encoding": {
            "x": {"field": "t", "type": "temporal",
              "scale": {"type": "utc", "domain": [{"year": 2020, "month": 8, "date": 15, "utc": true}, {"year": 2022, "month": 10, "date": 14, "utc": true}]},
              "axis": {"title": "⚙", "titleX": 631, "titleY": 7, "titleFontSize": 10, "titleColor": "#50535e", "titleBaseline": "middle", "labelPadding": 4, "labelBaseline": "top", "labelOverlap": false, "tickCount": 30,
                "values": [{"year": 2020, "month": 9, "date": 1, "utc": true}, {"year": 2021, "month": 1, "date": 1, "utc": true}, {"year": 2021, "month": 4, "date": 1, "utc": true}, {"year": 2021, "month": 7, "date": 1, "utc": true}, {"year": 2021, "month": 10, "date": 1, "utc": true}, {"year": 2022, "month": 1, "date": 1, "utc": true}, {"year": 2022, "month": 4, "date": 1, "utc": true}, {"year": 2022, "month": 7, "date": 1, "utc": true}, {"year": 2022, "month": 10, "date": 1, "utc": true}],
                "labelExpr": "utcFormat(datum.value, utcmonth(datum.value) == 0 ? '%Y' : '%b')",
                "labelFontWeight": {"condition": {"test": "utcmonth(datum.value) == 0", "value": "bold"}, "value": "normal"}}},
            "y": {"field": "v", "type": "quantitative",
              "scale": {"domain": [7.9, 97.9], "zero": false, "nice": false},
              "axis": {"orient": "right", "values": [20, 40, 60, 80], "tickCount": 30, "format": ".2f", "labelPadding": 5, "labelOverlap": false, "title": null}}
          }
        },
        {
          "data": {"values": [{}]},
          "mark": {"type": "rect", "color": "#7e57c2", "opacity": 0.1},
          "encoding": {
            "x": {"datum": {"year": 2020, "month": 8, "date": 15, "utc": true}, "type": "temporal"},
            "x2": {"datum": {"year": 2022, "month": 10, "date": 14, "utc": true}},
            "y": {"datum": 70, "type": "quantitative"}, "y2": {"datum": 30}
          }
        },
        {
          "data": {"values": [{"r": 70}, {"r": 50}, {"r": 30}]},
          "mark": {"type": "rule", "stroke": "#9598a1", "strokeDash": [4, 4], "strokeWidth": 1},
          "encoding": {"y": {"field": "r", "type": "quantitative"}}
        },
        {
          "data": {"values": [{"t": "2021-01-10", "v": 89.6}, {"t": "2021-04-28", "v": 65.9}]},
          "mark": {"type": "line", "stroke": "#222222", "strokeWidth": 1},
          "encoding": {"x": {"field": "t", "type": "temporal"}, "y": {"field": "v", "type": "quantitative"}}
        },
        {
          "data": {"values": [{}]},
          "mark": {"type": "rule", "stroke": "#2962ff", "strokeWidth": 2},
          "encoding": {"x": {"datum": {"year": 2020, "month": 8, "date": 15, "utc": true}, "type": "temporal"}}
        }
      ]
    }
  ]
}
